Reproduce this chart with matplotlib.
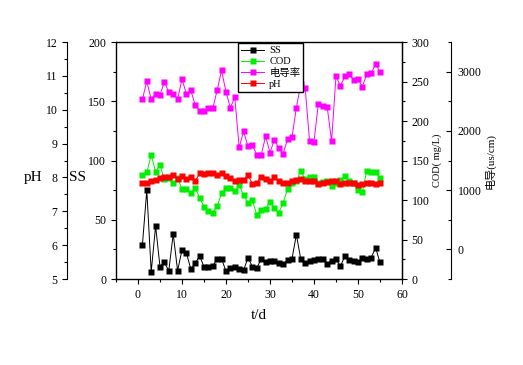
import matplotlib
matplotlib.use('Agg')
import matplotlib.pyplot as plt
import matplotlib.ticker as ticker

plt.rcParams['font.family'] = ['Liberation Serif', 'Noto Sans CJK SC']

# dati, giorno 1..55
t = list(range(1, 56))
ss = [28.7, 75, 6, 44.7, 10.4, 14, 7, 38, 7, 24.5, 22, 8.4, 13.2, 19.4, 10.4,
      10.4, 11, 17, 17, 6.5, 9.3, 10.4, 8.4, 7.3, 18, 10.4, 9.3, 16.9, 14, 15.5,
      15.5, 13.8, 12.4, 16, 17, 37.4, 16.6, 13.2, 15.5, 16.3, 16.6, 17, 12.9, 15.5, 17,
      10.7, 19.1, 15.8, 15.5, 14, 18, 17, 18, 26.4, 14]
cod = [131.6, 135, 157, 136, 144, 126, 127.5, 121, 128, 113.5, 114, 108.5, 115, 103, 91.5,
       86, 84, 92.4, 108.5, 115.6, 115.6, 111, 119, 106, 96.6, 99.6, 81.4, 87.3, 88.6, 97.5,
       90, 84, 96.6, 114, 122, 124, 136.7, 126, 129.5, 129.5, 121, 123, 124, 118, 122,
       125, 130, 124, 121, 112.7, 110.5, 137, 136, 136, 127.5]
cond = [2530, 2840, 2530, 2626, 2610, 2824, 2654, 2620, 2535, 2875, 2626, 2688, 2433, 2343, 2343,
        2394, 2382, 2688, 3022, 2654, 2394, 2564, 1720, 1991, 1737, 1754, 1601, 1591, 1907, 1635,
        1850, 1703, 1618, 1862, 1890, 2394, 2790, 2722, 1822, 1817, 2462, 2416, 2411, 1822, 2925,
        2756, 2920, 2960, 2857, 2870, 2745, 2960, 2971, 3129, 2993]
ph = [7.83, 7.85, 7.88, 7.93, 7.97, 8.02, 8.0, 8.07, 7.94, 8.05, 7.94, 8.02, 7.88, 8.12, 8.09,
      8.12, 8.12, 8.07, 8.12, 8.05, 7.97, 7.88, 7.93, 7.93, 8.07, 7.81, 7.85, 8.02, 7.94, 7.9,
      8.0, 7.9, 7.85, 7.85, 7.88, 7.93, 7.94, 7.88, 7.9, 7.9, 7.81, 7.83, 7.86, 7.88, 7.9,
      7.81, 7.85, 7.85, 7.83, 7.79, 7.81, 7.85, 7.83, 7.81, 7.85]

fig = plt.figure(figsize=(5.23, 3.65), dpi=100)
ax = fig.add_axes([0.2218, 0.2356, 0.5468, 0.6493])
ax_cod = ax.twinx()
ax_cond = ax.twinx()
ax_ph = ax.twinx()

stile = dict(lw=0.7, marker='s', ms=4, mec='none')
l1, = ax.plot(t, ss, color='black', label='SS', **stile)
l2, = ax_cod.plot(t, cod, color='#00ee00', label='COD', **stile)
l3, = ax_cond.plot(t, cond, color='#ff00ff', label='电导率', **stile)
l4, = ax_ph.plot(t, ph, color='#ff0000', label='pH', **stile)

tk = dict(labelsize=8.5, width=0.8, length=3.5)
tkm = dict(width=0.8, length=2)

# asse SS (sinistra)
ax.set_xlim(-5, 60)
ax.set_ylim(0, 200)
ax.xaxis.set_major_locator(ticker.MultipleLocator(10))
ax.xaxis.set_minor_locator(ticker.MultipleLocator(5))
ax.yaxis.set_major_locator(ticker.MultipleLocator(50))
ax.yaxis.set_minor_locator(ticker.MultipleLocator(25))
ax.tick_params(which='major', direction='out', top=False, right=False, **tk)
ax.tick_params(which='minor', direction='out', top=False, right=False, **tkm)
ax.set_xlabel('t/d', fontsize=11, labelpad=6)
ax.text(-0.136, 0.43, 'SS', transform=ax.transAxes, fontsize=11, ha='center', va='center')
ax.text(-0.29, 0.43, 'pH', transform=ax.transAxes, fontsize=11, ha='center', va='center')
for s in ax.spines.values():
    s.set_linewidth(1)

# asse COD (destra)
ax_cod.set_ylim(0, 300)
ax_cod.yaxis.set_major_locator(ticker.MultipleLocator(50))
ax_cod.yaxis.set_minor_locator(ticker.MultipleLocator(25))
ax_cod.tick_params(which='major', direction='out', **tk)
ax_cod.tick_params(which='minor', direction='out', **tkm)
ax_cod.set_ylabel('COD( mg/L)', fontsize=7.5, labelpad=2)
for k in ['left', 'top', 'bottom']:
    ax_cod.spines[k].set_visible(False)

# asse conducibilità (destra esterna)
ax_cond.set_ylim(-500, 3500)
ax_cond.spines['right'].set_position(('axes', 1.171))
ax_cond.yaxis.set_major_locator(ticker.MultipleLocator(1000))
ax_cond.yaxis.set_minor_locator(ticker.MultipleLocator(500))
ax_cond.tick_params(which='major', direction='in', pad=5, **tk)
ax_cond.tick_params(which='minor', direction='in', **tkm)
ax_cond.set_ylabel('电导(us/cm)', fontsize=8, labelpad=2)
for k in ['left', 'top', 'bottom']:
    ax_cond.spines[k].set_visible(False)

# asse pH (sinistra esterna)
ax_ph.set_ylim(5, 12)
ax_ph.spines['left'].set_position(('axes', -0.171))
ax_ph.spines['left'].set_visible(True)
ax_ph.yaxis.set_ticks_position('left')
ax_ph.yaxis.set_major_locator(ticker.MultipleLocator(1))
ax_ph.yaxis.set_minor_locator(ticker.MultipleLocator(0.5))
ax_ph.tick_params(which='major', direction='out', **tk)
ax_ph.tick_params(which='minor', direction='out', **tkm)
for k in ['right', 'top', 'bottom']:
    ax_ph.spines[k].set_visible(False)

leg = ax_ph.legend([l1, l2, l3, l4], ['SS', 'COD', '电导率', 'pH'],
                   loc='upper left', bbox_to_anchor=(0.4266, 0.996),
                   fontsize=7.5, fancybox=False, edgecolor='black', framealpha=1,
                   handlelength=2.2, handletextpad=0.5, borderpad=0.3,
                   labelspacing=0.15, borderaxespad=0)
leg.get_frame().set_linewidth(1)

fig.savefig('out.png', dpi=100)
